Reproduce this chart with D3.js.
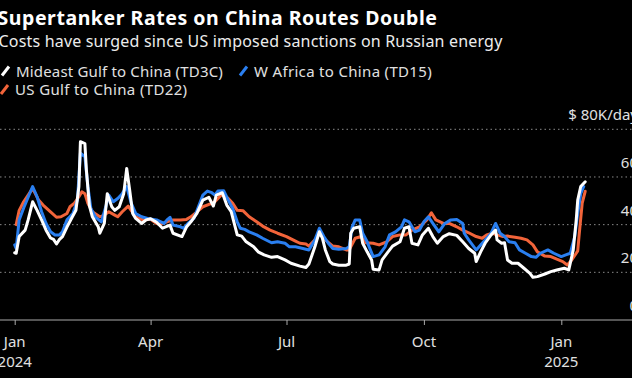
<!DOCTYPE html>
<html><head><meta charset="utf-8">
<script src="https://cdn.jsdelivr.net/npm/d3@7"></script>
<style>
html,body{margin:0;padding:0;background:#000;}
svg{display:block;}
text{font-family:"Noto Sans",sans-serif;}
</style></head>
<body><svg id="c" width="632" height="378"></svg>
<script>
const titleText = "Supertanker Rates on China Routes Double";
const subtitleText = "Costs have surged since US imposed sanctions on Russian energy";
const seriesNames = ["Mideast Gulf to China (TD3C)", "W Africa to China (TD15)", "US Gulf to China (TD22)"];
const yTicks = [0, 20, 40, 60, 80];
const yUnitLabel = "$ 80K/day";
const xTickDates = ["2024-01-01", "2024-04-01", "2024-07-01", "2024-10-01", "2025-01-01"];
const xTickLabels = [["Jan", "2024"], ["Apr"], ["Jul"], ["Oct"], ["Jan", "2025"]];

// Mideast Gulf to China (TD3C), $K/day
const td3cDates = ["2024-01-01","2024-01-02","2024-01-04","2024-01-08","2024-01-10","2024-01-13","2024-01-16","2024-01-19","2024-01-22","2024-01-25","2024-01-27","2024-01-29","2024-01-31","2024-02-02","2024-02-05","2024-02-08","2024-02-11","2024-02-13","2024-02-14","2024-02-17","2024-02-18","2024-02-20","2024-02-22","2024-02-26","2024-02-27","2024-03-01","2024-03-03","2024-03-06","2024-03-08","2024-03-11","2024-03-14","2024-03-16","2024-03-18","2024-03-20","2024-03-22","2024-03-26","2024-03-29","2024-04-01","2024-04-05","2024-04-09","2024-04-14","2024-04-16","2024-04-22","2024-04-25","2024-04-28","2024-05-02","2024-05-06","2024-05-10","2024-05-13","2024-05-15","2024-05-19","2024-05-22","2024-05-25","2024-05-27","2024-05-29","2024-06-01","2024-06-04","2024-06-09","2024-06-12","2024-06-16","2024-06-21","2024-06-25","2024-06-30","2024-07-04","2024-07-10","2024-07-14","2024-07-16","2024-07-20","2024-07-23","2024-07-25","2024-07-27","2024-07-30","2024-08-01","2024-08-05","2024-08-10","2024-08-12","2024-08-13","2024-08-15","2024-08-19","2024-08-21","2024-08-24","2024-08-27","2024-08-28","2024-09-01","2024-09-03","2024-09-07","2024-09-10","2024-09-15","2024-09-18","2024-09-21","2024-09-23","2024-09-27","2024-09-30","2024-10-04","2024-10-07","2024-10-10","2024-10-14","2024-10-18","2024-10-23","2024-10-27","2024-10-31","2024-11-04","2024-11-05","2024-11-08","2024-11-11","2024-11-15","2024-11-18","2024-11-19","2024-11-22","2024-11-24","2024-11-26","2024-11-29","2024-12-03","2024-12-07","2024-12-11","2024-12-13","2024-12-16","2024-12-21","2024-12-25","2024-12-29","2025-01-03","2025-01-06","2025-01-09","2025-01-11","2025-01-12","2025-01-14","2025-01-17"];
const td3cValues = [28.2,28,35,37.7,42,49.6,46,42,37.7,34.4,33.8,31.9,33.8,35,39,42.6,46,56,74.8,74,63,48,43.3,39,36.4,40.5,53,47.5,46,47.5,53,63.6,54.5,44.7,42.6,40.5,42,42.5,41,38.5,39.8,36.4,35,39,41.2,44.7,50.3,51.5,47.8,52.4,53.4,48.2,45.4,40.5,35.7,35.2,32.8,30.7,28.6,27.3,26.3,26.6,25.2,23.8,22.6,22,23.5,30.7,37,34.3,29.4,24.5,23.5,23,23,23.5,36.4,38.5,39.1,32.2,28.6,25.2,21.3,21,25.2,28.6,31,32.8,38.5,39.1,32.2,31.5,35.7,38.5,35,32.2,35,36.2,35.5,32.8,30,28,24.5,28.6,32.2,35.7,37.7,33.6,32.2,32.4,25.2,23.8,23.8,21.7,19.6,17.9,18.2,19.3,20.3,21,21.7,21,29.4,42,50.3,56,58];

// W Africa to China (TD15), $K/day
const td15Dates = ["2024-01-01","2024-01-02","2024-01-04","2024-01-07","2024-01-13","2024-01-16","2024-01-19","2024-01-22","2024-01-25","2024-01-28","2024-01-31","2024-02-02","2024-02-05","2024-02-09","2024-02-12","2024-02-14","2024-02-17","2024-02-19","2024-02-21","2024-02-24","2024-02-28","2024-03-02","2024-03-04","2024-03-07","2024-03-10","2024-03-13","2024-03-16","2024-03-19","2024-03-22","2024-03-26","2024-03-30","2024-04-05","2024-04-10","2024-04-12","2024-04-14","2024-04-16","2024-04-21","2024-04-23","2024-04-26","2024-04-30","2024-05-03","2024-05-06","2024-05-09","2024-05-12","2024-05-14","2024-05-16","2024-05-20","2024-05-23","2024-05-26","2024-05-29","2024-05-31","2024-06-03","2024-06-06","2024-06-11","2024-06-15","2024-06-21","2024-06-25","2024-06-30","2024-07-03","2024-07-07","2024-07-12","2024-07-16","2024-07-20","2024-07-23","2024-07-26","2024-07-29","2024-08-01","2024-08-05","2024-08-10","2024-08-12","2024-08-14","2024-08-16","2024-08-19","2024-08-21","2024-08-24","2024-08-28","2024-09-01","2024-09-05","2024-09-08","2024-09-12","2024-09-16","2024-09-18","2024-09-21","2024-09-25","2024-09-28","2024-10-01","2024-10-04","2024-10-07","2024-10-11","2024-10-15","2024-10-19","2024-10-23","2024-10-27","2024-10-28","2024-10-31","2024-11-05","2024-11-08","2024-11-11","2024-11-15","2024-11-18","2024-11-21","2024-11-24","2024-11-27","2024-12-01","2024-12-04","2024-12-08","2024-12-12","2024-12-15","2024-12-18","2024-12-23","2024-12-27","2025-01-01","2025-01-04","2025-01-07","2025-01-10","2025-01-12","2025-01-14","2025-01-16"];
const td15Values = [31.5,30,42,47,56,51.7,45.4,40.5,37,35.7,35.7,37,42,44.7,50.3,70,68.5,56,46.8,43.3,41.2,47.5,52.4,49.6,51,53,56,49,44.7,43.3,42.6,42,40.5,42,43.1,39.8,39.1,38.5,40.5,42.6,47.5,52.4,54.1,53.4,52.4,54.1,54.2,50.3,46.8,41.2,38.5,38,37,35.7,34.3,32.4,32.8,32.2,30.7,30.7,30,29.4,33.6,38.5,35,32.2,30,29.7,30,30.7,39.1,42,42,36.4,32.8,26.6,27.3,30.7,35.7,37,39.1,42,41.2,37,37.7,41.2,43.3,40.5,37,40.5,42,42.2,40.5,36.4,33.6,29.4,31.5,33.6,36.4,40.5,36.4,35,32.8,32.4,29.4,28,26.6,26.3,28,29.4,28,26.6,27.3,28,35,44.7,53,56];

// US Gulf to China (TD22), $K/day
const td22Dates = ["2024-01-02","2024-01-04","2024-01-07","2024-01-10","2024-01-13","2024-01-17","2024-01-20","2024-01-25","2024-01-29","2024-02-01","2024-02-05","2024-02-07","2024-02-10","2024-02-13","2024-02-15","2024-02-17","2024-02-19","2024-02-22","2024-02-27","2024-03-01","2024-03-04","2024-03-08","2024-03-10","2024-03-13","2024-03-17","2024-03-19","2024-03-22","2024-03-27","2024-04-01","2024-04-05","2024-04-07","2024-04-12","2024-04-16","2024-04-21","2024-04-25","2024-04-28","2024-05-02","2024-05-06","2024-05-11","2024-05-14","2024-05-19","2024-05-23","2024-05-26","2024-05-29","2024-06-02","2024-06-06","2024-06-11","2024-06-15","2024-06-20","2024-06-25","2024-07-01","2024-07-07","2024-07-10","2024-07-14","2024-07-16","2024-07-21","2024-07-23","2024-07-27","2024-08-01","2024-08-05","2024-08-10","2024-08-12","2024-08-16","2024-08-20","2024-08-23","2024-08-28","2024-09-01","2024-09-06","2024-09-10","2024-09-15","2024-09-19","2024-09-23","2024-09-28","2024-10-03","2024-10-06","2024-10-09","2024-10-14","2024-10-18","2024-10-23","2024-10-27","2024-10-31","2024-11-05","2024-11-09","2024-11-12","2024-11-16","2024-11-19","2024-11-23","2024-11-26","2024-12-01","2024-12-05","2024-12-09","2024-12-13","2024-12-16","2024-12-21","2024-12-25","2024-12-29","2025-01-02","2025-01-05","2025-01-08","2025-01-11","2025-01-12","2025-01-13","2025-01-15","2025-01-17"];
const td22Values = [40,46,49.6,52.4,55.2,50.3,48.2,45.4,43.1,43.3,44.7,47.5,49,51.7,53.8,53,49,45.4,43.3,44,45.4,44,43.3,45.4,47.8,46,43.3,42,42.3,40.5,40,41.2,42,42,42.2,43.3,45.4,47.5,48.7,49.6,52.9,51,49,46,45.8,43.3,41.2,39.4,37.7,36.4,35,33.1,32.2,31.9,31,34.3,36.4,33.6,31,30.7,29.4,29.4,34.3,35,32.4,32.2,31.5,32.8,35,35.7,35.7,37.7,39.1,42,45,42,40.5,40.5,39.1,37.7,36.6,35,34.3,35.7,36.4,35.7,35,35.2,34.7,34.3,33.6,31.5,28.6,26.8,26.6,25.5,24.5,23.1,25.2,28,29,36,49,54];

const colors = ["#ffffff", "#2a7ff0", "#f2643a"];

const parse = d3.timeParse("%Y-%m-%d");
const series = [
  {name: seriesNames[0], color: colors[0], data: td3cDates.map((d,i)=>({date: parse(d), value: td3cValues[i]}))},
  {name: seriesNames[1], color: colors[1], data: td15Dates.map((d,i)=>({date: parse(d), value: td15Values[i]}))},
  {name: seriesNames[2], color: colors[2], data: td22Dates.map((d,i)=>({date: parse(d), value: td22Values[i]}))}
];

const svg = d3.select("#c");
svg.append("rect").attr("width",632).attr("height",378).attr("fill","#000");

const x = d3.scaleTime().domain([parse("2024-01-01"), parse("2025-01-01")]).range([14.7, 561.3]);
const y = d3.scaleLinear().domain([0, 80]).range([320, 129.3]);

// fit text to a target width by adjusting letter-spacing
function fitWidth(sel, target) {
  const node = sel.node();
  const n = sel.text().length;
  const w = node.getComputedTextLength();
  sel.attr("letter-spacing", ((target - w) / n).toFixed(3));
}

// Header
const t1 = svg.append("text").attr("x", -2.5).attr("y", 25).attr("fill", "#fff")
  .attr("font-size", 19.5).attr("font-weight", 700).text(titleText);
fitWidth(t1, 440);
const t2 = svg.append("text").attr("x", -1.5).attr("y", 46.5).attr("fill", "#ececec")
  .attr("font-size", 16).text(subtitleText);
fitWidth(t2, 504);

// Legend
const legendPos = [[1, 76.5], [239, 76.5], [0, 95]];
const legendWidths = [207, 178, 172.5];
series.forEach((s, i) => {
  const [lx, ly] = legendPos[i];
  svg.append("line").attr("x1", lx + 1).attr("y1", ly - 1).attr("x2", lx + 8).attr("y2", ly - 10)
    .attr("stroke", s.color).attr("stroke-width", 3);
  const lt = svg.append("text").attr("x", lx + 15).attr("y", ly).attr("fill", "#e0e0e0")
    .attr("font-size", 15).text(s.name);
  fitWidth(lt, legendWidths[i]);
});

// Gridlines
const gridG = svg.append("g");
yTicks.filter(t => t > 0).forEach(t => {
  gridG.append("line").attr("x1", 0).attr("x2", 632).attr("y1", y(t)).attr("y2", y(t))
    .attr("stroke", "#8a8a8a").attr("stroke-width", 1).attr("stroke-dasharray", "1.5,3");
});
// y labels
yTicks.forEach(t => {
  svg.append("text").attr("x", 638).attr("y", y(t) - 9).attr("text-anchor", "end")
    .attr("fill", "#e0e0e0").attr("font-size", 15)
    .text(t === 80 ? yUnitLabel : String(t));
});

// x axis
const xAxis = d3.axisBottom(x).tickValues(xTickDates.map(parse)).tickSize(5).tickFormat("");
const ax = svg.append("g").attr("transform", "translate(0,320)").call(xAxis);
ax.select(".domain").remove();
ax.selectAll(".tick line").attr("stroke", "#aaa");
svg.append("line").attr("x1", 0).attr("x2", 632).attr("y1", 320).attr("y2", 320)
  .attr("stroke", "#aaa").attr("stroke-width", 1);
xTickDates.forEach((d, i) => {
  xTickLabels[i].forEach((lab, j) => {
    svg.append("text").attr("x", x(parse(d))).attr("y", 347 + j * 19.5)
      .attr("text-anchor", "middle").attr("fill", "#e0e0e0").attr("font-size", 15).text(lab);
  });
});

// Lines
const line = d3.line().x(d => x(d.date)).y(d => y(d.value));
[2, 1, 0].forEach(i => {
  svg.append("path").datum(series[i].data).attr("d", line)
    .attr("fill", "none").attr("stroke", series[i].color).attr("stroke-width", 3)
    .attr("stroke-linejoin", "round").attr("stroke-linecap", "round");
});
</script></body></html>
